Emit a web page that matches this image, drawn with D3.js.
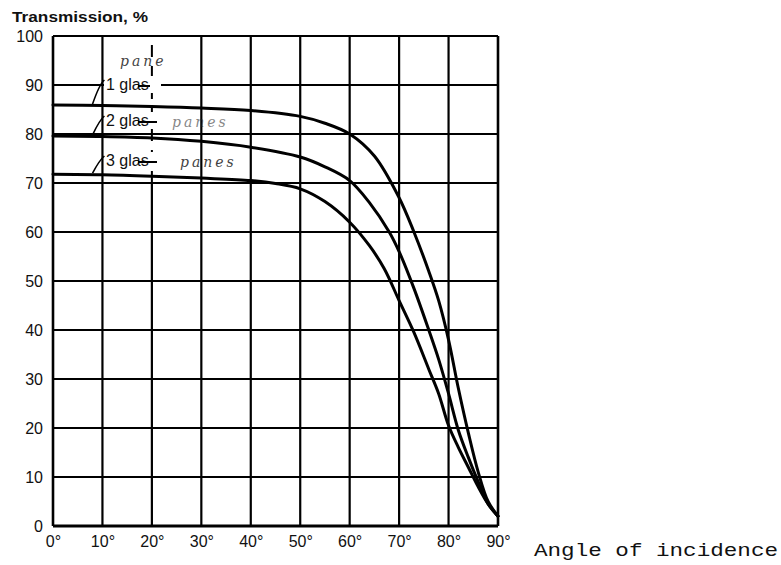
<!DOCTYPE html>
<html><head><meta charset="utf-8">
<script src="https://cdn.jsdelivr.net/npm/d3@7"></script>
<style>body{margin:0;background:#fff}svg{display:block}</style>
</head><body>
<svg id="c" width="781" height="565"></svg>
<script>
const xTicks = [0,10,20,30,40,50,60,70,80,90];
const xTickLabels = ["0°","10°","20°","30°","40°","50°","60°","70°","80°","90°"];
const yTicks = [0,10,20,30,40,50,60,70,80,90,100];
const yTickLabels = ["0","10","20","30","40","50","60","70","80","90","100"];

const angles1 = [0,10,20,30,40,50,55,60,65,70,73,76,78,80,82,84,86,88,90];
const glass1  = [85.9,85.8,85.6,85.3,84.8,83.6,82.2,80,75.5,67,60,52,46,38,28,19,11,5,2];
const angles2 = [0,10,20,30,40,50,55,60,64,68,70,73,76,78,80,82,84,86,88,90];
const glass2  = [79.6,79.5,79.2,78.5,77.3,75.3,73.3,70.5,66,60,56,48.5,40,34,27,19.5,14,9,4.5,2];
const angles3 = [0,10,20,30,40,45,50,55,60,64,67,70,73,76,78,80,82,84,86,88,90];
const glass3  = [71.8,71.7,71.4,71,70.5,69.9,68.8,66.2,62,57.2,52.5,46,39.5,32,27,20.5,16,12,8,4.5,2];
const seriesNames = ["1 glas","2 glas","3 glas"];
const noteTexts = ["pane","panes","panes"];
const xTitle = "Angle of incidence";
const yTitle = "Transmission, %";

const svg = d3.select("#c");
const x = d3.scaleLinear().domain([0,90]).range([53,498]);
const y = d3.scaleLinear().domain([0,100]).range([526,36]);

// grid
const g = svg.append("g");
g.selectAll("line.h").data(yTicks).join("line")
  .attr("x1", x(0)).attr("x2", x(90))
  .attr("y1", d=>y(d)).attr("y2", d=>y(d))
  .attr("stroke","#000").attr("stroke-width", d=> d===0?3:2.2);
g.selectAll("line.v").data(xTicks).join("line")
  .attr("x1", d=>x(d)).attr("x2", d=>x(d))
  .attr("y1", y(0)).attr("y2", d=> d===20 ? y(70) : y(100))
  .attr("stroke","#000").attr("stroke-width", d=> (d===0||d===90)?2.6:2.2);
g.append("line").attr("x1",x(20)).attr("x2",x(20)).attr("y1",y(70)).attr("y2",y(100))
  .attr("stroke","#000").attr("stroke-width",2).attr("stroke-dasharray","12,9");

// tick labels
const yAxis = d3.axisLeft(y).tickValues(yTicks).tickSize(0).tickPadding(10)
  .tickFormat((d,i)=>yTickLabels[i]);
const ya = svg.append("g").attr("transform",`translate(${x(0)},0)`).call(yAxis);
ya.select(".domain").remove();
ya.selectAll("text").attr("font-family","Liberation Sans, Arial, sans-serif")
  .attr("font-size",16).attr("fill","#111");

const xAxis = d3.axisBottom(x).tickValues(xTicks).tickSize(0).tickPadding(10)
  .tickFormat((d,i)=>xTickLabels[i]);
const xa = svg.append("g").attr("transform",`translate(0,${y(0)})`).call(xAxis);
xa.select(".domain").remove();
xa.selectAll("text").attr("font-family","Liberation Sans, Arial, sans-serif")
  .attr("font-size",16).attr("fill","#111");

// curves
const line = d3.line().x(d=>x(d[0])).y(d=>y(d[1])).curve(d3.curveCatmullRom.alpha(0.5));
const series = [
  d3.zip(angles1, glass1),
  d3.zip(angles2, glass2),
  d3.zip(angles3, glass3)
];
svg.selectAll("path.curve").data(series).join("path")
  .attr("d", line).attr("fill","none").attr("stroke","#000")
  .attr("stroke-width",3).attr("stroke-linejoin","round").attr("stroke-linecap","round");

// series labels
const labelY = [90, 126, 166];
const labelStartVal = [glass1[0], glass2[0], glass3[0]];
seriesNames.forEach((name,i)=>{
  svg.append("rect").attr("x",104).attr("y",labelY[i]-14).attr("width",57).attr("height",17).attr("fill","#fff");
  svg.append("text").attr("x",106).attr("y",labelY[i]).text(name)
    .attr("font-family","Liberation Sans, Arial, sans-serif").attr("font-size",16).attr("fill","#111");
  svg.append("line").attr("x1",138).attr("x2",i===0?150:157).attr("y1",labelY[i]-4).attr("y2",labelY[i]-4)
    .attr("stroke","#000").attr("stroke-width",2);
  svg.append("path")
    .attr("d",`M${x(8)},${y(labelStartVal[i])-1} Q${x(9.4)},${labelY[i]-6} ${x(10.4)},${labelY[i]-10}`)
    .attr("fill","none").attr("stroke","#000").attr("stroke-width",1.6);
});
svg.append("line").attr("x1",163).attr("x2",222).attr("y1",y(90)).attr("y2",y(90))
  .attr("stroke","#000").attr("stroke-width",2.2);

// handwritten notes
const notePos = [[120,66],[172,127],[180,167]];
noteTexts.forEach((t,i)=>{
  svg.append("text").attr("x",notePos[i][0]).attr("y",notePos[i][1]).text(t)
    .attr("font-family","DejaVu Serif, serif").attr("font-style","italic")
    .attr("font-size",14).attr("fill","#222").attr("opacity", i===1?0.55:0.85)
    .attr("letter-spacing",3);
});

// titles
svg.append("text").attr("x",12).attr("y",22).text(yTitle)
  .attr("font-family","Liberation Sans, Arial, sans-serif").attr("font-weight","bold")
  .attr("font-size",15).attr("fill","#111")
  .attr("textLength",136).attr("lengthAdjust","spacingAndGlyphs");
svg.append("text").attr("x",534).attr("y",556).text(xTitle)
  .attr("font-family","Liberation Mono, Courier New, monospace")
  .attr("font-size",19).attr("fill","#111")
  .attr("textLength",244).attr("lengthAdjust","spacingAndGlyphs");
</script>
</body></html>
